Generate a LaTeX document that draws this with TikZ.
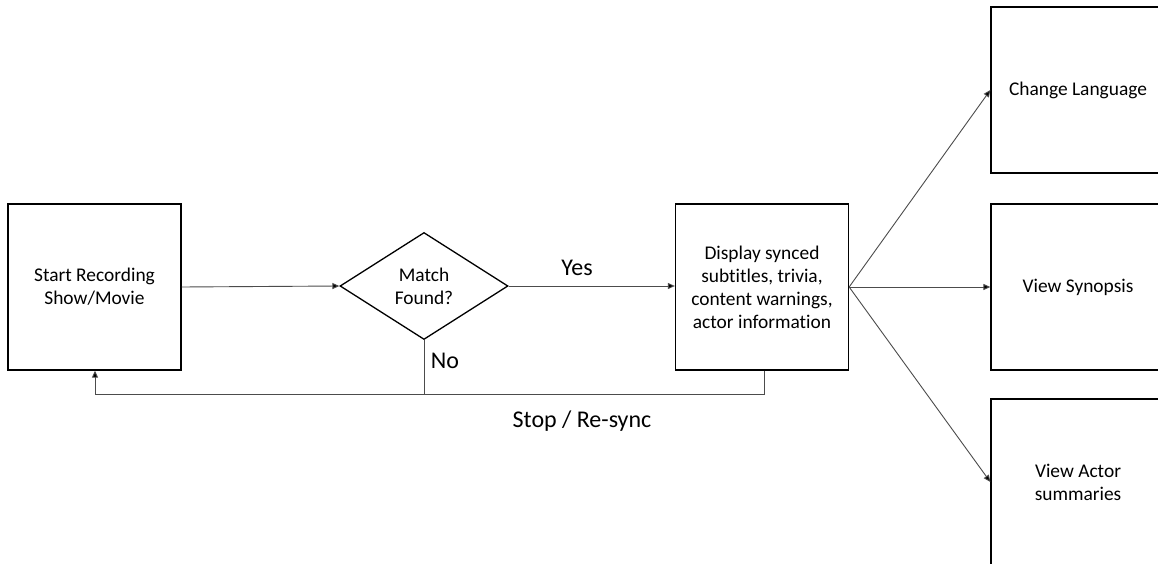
\documentclass[tikz,border=0pt]{standalone}
\usepackage{fontspec}
\setmainfont[Ligatures={NoCommon}]{Carlito}
\usetikzlibrary{shapes.geometric,arrows.meta}
\begin{document}
\begin{tikzpicture}[x=1pt,y=-1pt,
  box/.style={draw=black,line width=1.3pt,minimum width=173pt,minimum height=166pt,inner sep=0pt,align=center,font=\fontsize{19.4}{23}\selectfont},
  dec/.style={draw=black,line width=1.3pt,shape=diamond,minimum width=168pt,minimum height=107pt,inner sep=0pt,shape aspect=1.6,align=center,font=\fontsize{19.4}{23}\selectfont},
  conn/.style={draw=black!70,line width=0.9pt,-{Triangle[length=7pt,width=6pt,fill=black]}},
  line/.style={draw=black!70,line width=0.9pt},
  lbl/.style={font=\fontsize{24}{28}\selectfont,inner sep=0pt}]
\useasboundingbox (0,0) rectangle (1158,564);
\clip (0,0) rectangle (1158,564);
\fill[white] (0,0) rectangle (1158,564);
\node[box] (start) at (94.5,287) {Start Recording\\Show/Movie};
\node[dec] (match) at (424,286) {Match\\Found?};
\node[box] (disp) at (762,287) {Display synced\\subtitles, trivia,\\content warnings,\\actor information};
\node[box,minimum width=174pt] (lang) at (1078,90) {Change Language};
\node[box,minimum width=174pt] (syn) at (1078,287) {View Synopsis};
\node[box,minimum width=174pt] (actor) at (1078,482) {View Actor\\summaries};
\coordinate (dl) at (764,394);
\coordinate (sl) at (95,394);
\coordinate (ml) at (424,394);
\draw[conn] (start.east |- 0,287) -- (match.west);
\draw[conn] (match.east) -- (disp.west |- match.east);
\draw[conn] (disp.east) -- (lang.west);
\draw[conn] (disp.east) -- (syn.west);
\draw[conn] (disp.east) -- (actor.west);
\draw[line] (disp.south -| dl) -- (dl) -- (sl);
\draw[conn] (sl) -- (start.south -| sl);
\draw[line] (match.south) -- (ml);
\node[lbl] (yes) at (577,268) {Yes};
\node[lbl] (no) at (445,361) {No};
\node[lbl] (stop) at (582,421) {Stop / Re-sync};
\end{tikzpicture}
\end{document}
